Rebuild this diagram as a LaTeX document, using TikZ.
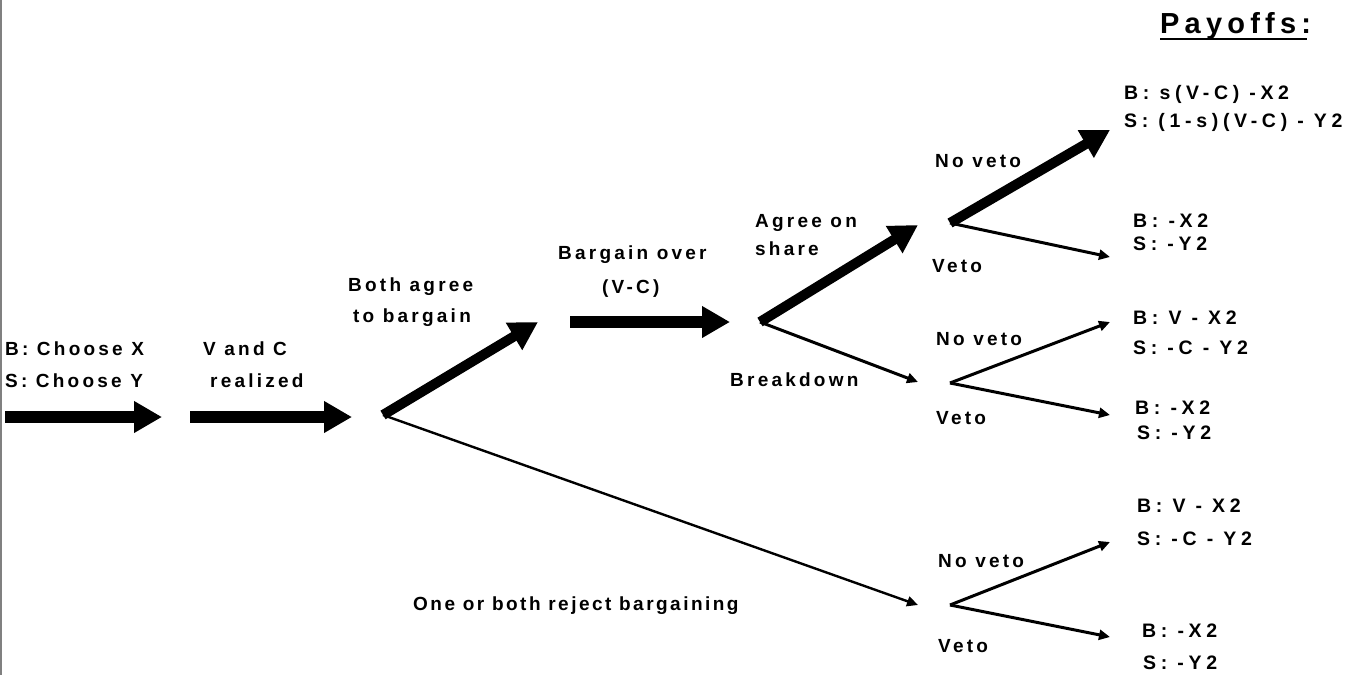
\documentclass[tikz,border=0pt]{standalone}
\usepackage{fontspec}
\newfontfamily\labfont{Liberation Sans Bold}[LetterSpace=17]
\newfontfamily\narfont{Liberation Sans Bold}[LetterSpace=13]
\newfontfamily\payofffont{Liberation Sans Bold}[LetterSpace=24]
\newfontfamily\titlefont{Liberation Sans Bold}[LetterSpace=18]
\usetikzlibrary{arrows.meta}
\tikzset{
  lbl/.style={font=\labfont\fontsize{19}{21}\selectfont, inner sep=0pt, anchor=base west},
  payoff/.style={font=\payofffont\fontsize{19.5}{21}\selectfont, inner sep=0pt, anchor=base west},
  bigarrow/.style={line width=12pt, -{Triangle[length=28pt,width=30pt]}},
  diagarrow/.style={line width=10pt, -{Triangle[length=28pt,width=30pt]}},
  thinarrow/.style={line width=3pt, -{Triangle[length=11pt,width=10pt]}},
  thinline/.style={line width=2.4pt, -{Triangle[length=11pt,width=10pt]}},
}
\begin{document}
\begin{tikzpicture}[x=1pt,y=-1pt]
\useasboundingbox (0,0) rectangle (1358,675);
\draw[gray, line width=1.5pt] (1,0) -- (1,675);

% branch points and free ends
\coordinate (a1s) at (5,417);
\coordinate (a1e) at (162,417);
\coordinate (a2s) at (190,417);
\coordinate (a2e) at (352,417);
\coordinate (n1) at (383,415);
\coordinate (agreeTip) at (538,322);
\coordinate (rejectTip) at (918,605);
\coordinate (a3s) at (570,322);
\coordinate (a3e) at (730,322);
\coordinate (n2) at (760,322);
\coordinate (shareTip) at (918,225);
\coordinate (breakTip) at (918,382);
\coordinate (n3) at (950,223);
\coordinate (n4) at (950,383);
\coordinate (n5) at (950,605);
\coordinate (p1) at (1110,130);
\coordinate (p2) at (1110,257);
\coordinate (p3) at (1110,322);
\coordinate (p4) at (1110,415);
\coordinate (p5) at (1110,542);
\coordinate (p6) at (1110,637);

% arrows
\draw[bigarrow] (a1s) -- (a1e);
\draw[bigarrow] (a2s) -- (a2e);
\draw[diagarrow] (n1) -- (agreeTip);
\draw[thinline] (n1) -- (rejectTip);
\draw[bigarrow] (a3s) -- (a3e);
\draw[diagarrow] (n2) -- (shareTip);
\draw[thinarrow] (n2) -- (breakTip);
\draw[diagarrow] (n3) -- (p1);
\draw[thinarrow] (n3) -- (p2);
\draw[thinarrow] (n4) -- (p3);
\draw[thinarrow] (n4) -- (p4);
\draw[thinarrow] (n5) -- (p5);
\draw[thinarrow] (n5) -- (p6);

% labels
\node[lbl] (l1) at (5,355) {B: Choose X};
\node[lbl] (l2) at (5,387) {S: Choose Y};
\node[lbl] (l3) at (203,355) {V and C};
\node[lbl] (l4) at (210,387) {realized};
\node[lbl] (l5) at (348,291) {Both agree};
\node[lbl] (l6) at (353,322) {to bargain};
\node[lbl] (l7) at (558,259) {Bargain over};
\node[lbl] (l8) at (602,293) {(V-C)};
\node[lbl] (l9) at (755,227) {Agree on};
\node[lbl] (l10) at (755,255) {share};
\node[lbl] (l11) at (730,386) {Breakdown};
\node[lbl] (l12) at (935,167) {No veto};
\node[lbl] (l13) at (932,272) {Veto};
\node[lbl] (l14) at (936,345) {No veto};
\node[lbl] (l15) at (936,424) {Veto};
\node[lbl] (l16) at (938,567) {No veto};
\node[lbl] (l17) at (938,652) {Veto};
\node[lbl, font=\narfont\fontsize{19}{21}\selectfont] (l18) at (413,610) {One or both reject bargaining};

\node[font=\titlefont\fontsize{29}{31}\selectfont, inner sep=0pt, anchor=base west] (pay) at (1160,33) {Payoffs:};
\draw[line width=2.5pt] ([yshift=-6pt]pay.base west) -- ([xshift=-4pt,yshift=-6pt]pay.base east);

\node[payoff] (q1) at (1124,99) {B: s(V-C) -X2};
\node[payoff] (q2) at (1124,127) {S: (1-s)(V-C) - Y2};
\node[payoff] (q3) at (1133,227) {B: -X2};
\node[payoff] (q4) at (1133,250) {S: -Y2};
\node[payoff] (q5) at (1133,324) {B: V - X2};
\node[payoff] (q6) at (1133,354) {S: -C - Y2};
\node[payoff] (q7) at (1135,414) {B: -X2};
\node[payoff] (q8) at (1137,439) {S: -Y2};
\node[payoff] (q9) at (1137,512) {B: V - X2};
\node[payoff] (q10) at (1137,545) {S: -C - Y2};
\node[payoff] (q11) at (1142,637) {B: -X2};
\node[payoff] (q12) at (1143,669) {S: -Y2};
\end{tikzpicture}
\end{document}
